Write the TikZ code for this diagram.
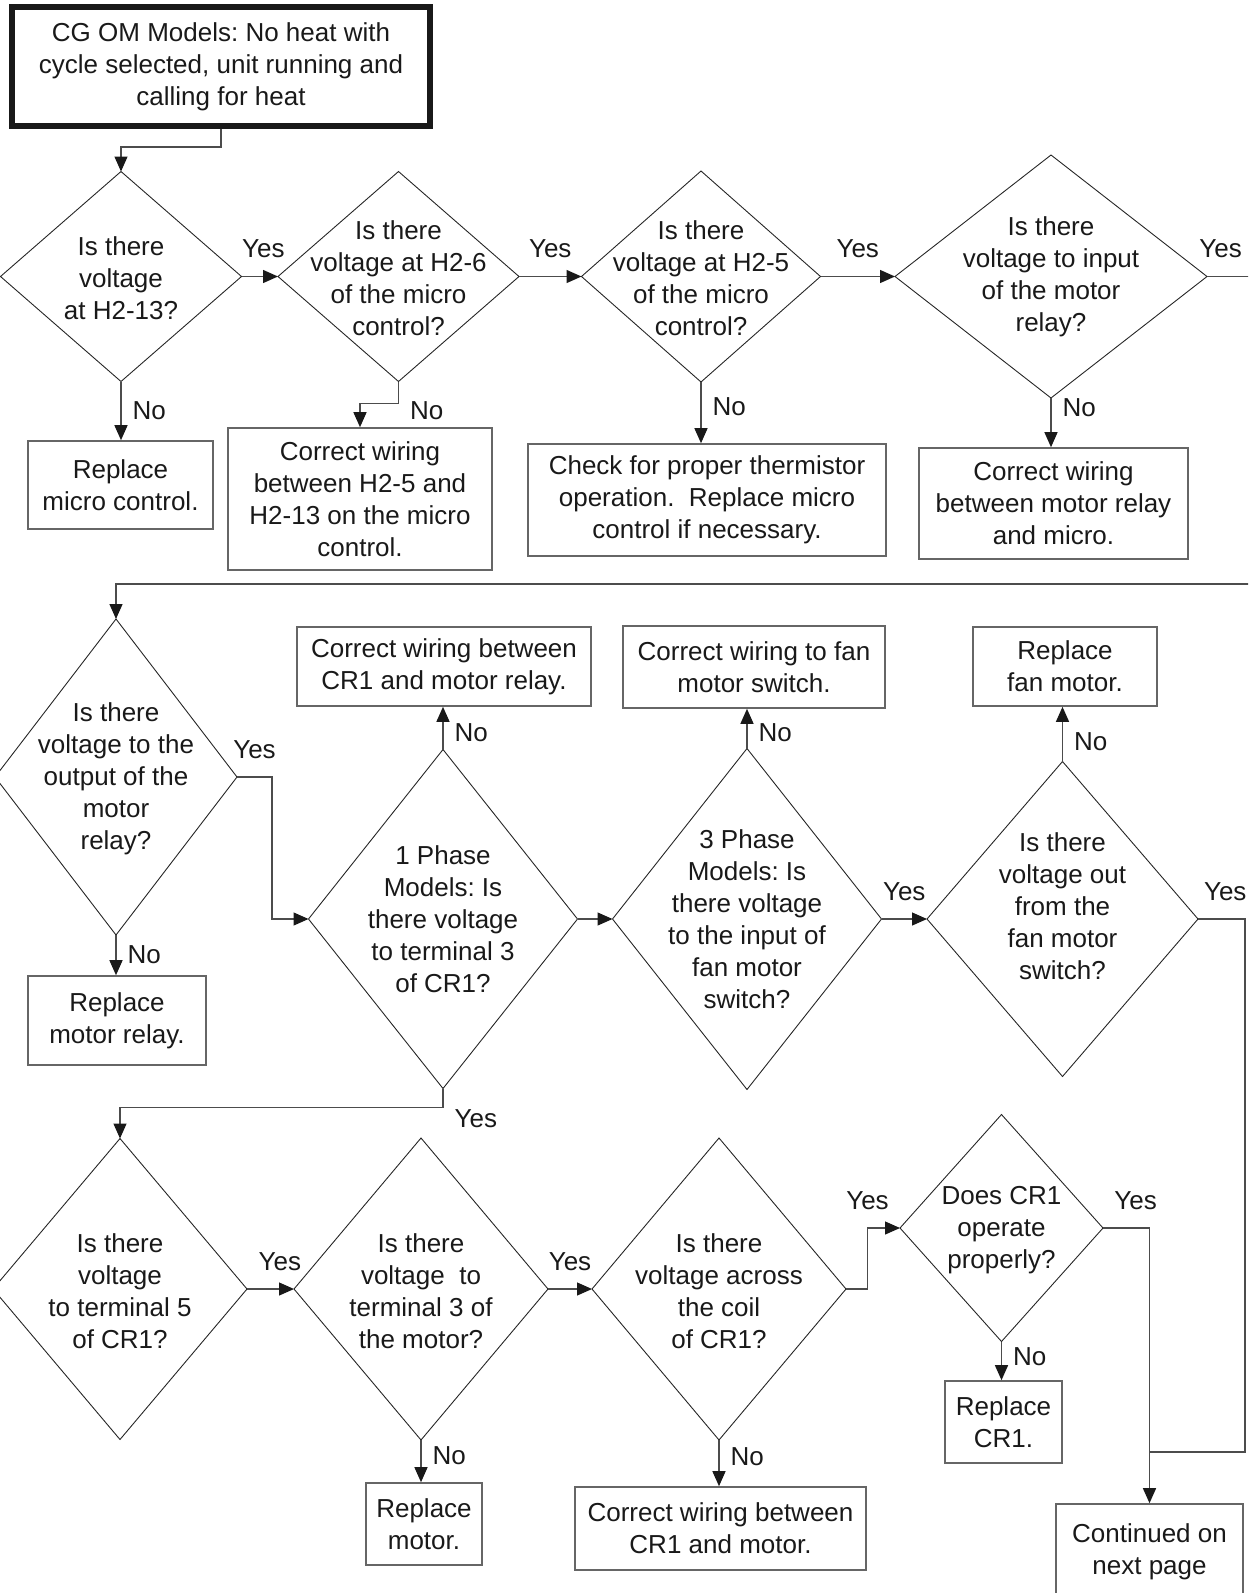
\documentclass[tikz,border=0pt]{standalone}
\usepackage{fontspec}
\setmainfont{Liberation Sans}
\usetikzlibrary{positioning, arrows.meta, shapes.geometric, calc}
\frenchspacing

\begin{document}
\begin{tikzpicture}[
        x=1pt, y=-1pt,
        font=\fontsize{26pt}{32pt}\selectfont,
        text=black!90,
        titlu/.style={draw=black!90, line width=6pt, align=center, inner sep=0pt},
        bloc/.style={draw=black!60, line width=1.6pt, align=center, inner sep=0pt},
        intrebare/.style={diamond, draw=black!85, line width=0.9pt, inner sep=0pt, outer sep=0pt},
        textintr/.style={align=center, inner sep=0pt},
        eticheta/.style={inner sep=0pt},
        linie/.style={draw=black!70, line width=1.3pt},
        sageata/.style={linie, -{Triangle[length=15pt, width=13pt, color=black!90]}},
    ]
        \useasboundingbox (0,0) rectangle (1248,1593);
        \clip (0,0) rectangle (1248,1593);
        \node[titlu, minimum width=418pt, minimum height=119pt] (inceput) at (221,66.5)
            {CG OM Models: No heat with\\cycle selected, unit running and\\calling for heat};
        \node[intrebare, minimum width=241pt, minimum height=210pt,
            label={[textintr, yshift=-2pt]center:{Is there\\voltage\\at H2-13?}}] (q1) at (121,276.5) {};
        \node[intrebare, minimum width=241pt, minimum height=210pt,
            label={[textintr, yshift=-2pt]center:{Is there\\voltage at H2-6\\of the micro\\control?}}] (q2) at (398.5,276.5) {};
        \node[intrebare, minimum width=239pt, minimum height=211pt,
            label={[textintr, yshift=-2pt]center:{Is there\\voltage at H2-5\\of the micro\\control?}}] (q3) at (701,276.5) {};
        \node[intrebare, minimum width=312pt, minimum height=243pt,
            label={[textintr]center:{Is there\\voltage to input\\of the motor\\relay?}}] (q4) at (1051,276.5) {};
        \node[bloc, minimum width=185pt, minimum height=88pt] (r1) at (120.5,485)
            {Replace\\micro control.};
        \node[bloc, minimum width=264pt, minimum height=142pt] (r2) at (360,499)
            {Correct wiring\\between H2-5 and\\H2-13 on the micro\\control.};
        \node[bloc, minimum width=358pt, minimum height=112pt] (r3) at (707,500)
            {Check for proper thermistor\\operation.\ \ Replace micro\\control if necessary.};
        \node[bloc, minimum width=269pt, minimum height=111pt] (r4) at (1053.5,503.5)
            {Correct wiring\\between motor relay\\and micro.};
        \node[intrebare, minimum width=242pt, minimum height=316pt,
            label={[textintr, yshift=-2pt]center:{Is there\\voltage to the\\output of the\\motor\\relay?}}] (q5) at (116,777) {};
        \node[intrebare, minimum width=269pt, minimum height=339pt,
            label={[textintr]center:{1 Phase\\Models: Is\\there voltage\\to terminal 3\\of CR1?}}] (q6) at (443,919) {};
        \node[intrebare, minimum width=269pt, minimum height=341pt,
            label={[textintr]center:{3 Phase\\Models: Is\\there voltage\\to the input of\\fan motor\\switch?}}] (q7) at (747,919) {};
        \node[intrebare, minimum width=271pt, minimum height=315pt,
            label={[textintr, yshift=13pt]center:{Is there\\voltage out\\from the\\fan motor\\switch?}}] (q8) at (1062.5,919) {};
        \node[bloc, minimum width=294pt, minimum height=79pt] (r6) at (444,666.5)
            {Correct wiring between\\CR1 and motor relay.};
        \node[bloc, minimum width=262pt, minimum height=82pt] (r7) at (754,667)
            {Correct wiring to fan\\motor switch.};
        \node[bloc, minimum width=184pt, minimum height=79pt] (r8) at (1065,666.5)
            {Replace\\fan motor.};
        \node[bloc, minimum width=178pt, minimum height=89pt] (r5) at (117,1020.5)
            {Replace\\motor relay.};
        \node[intrebare, minimum width=254pt, minimum height=301pt,
            label={[textintr, yshift=-2pt]center:{Is there\\voltage\\to terminal 5\\of CR1?}}] (q9) at (120,1289) {};
        \node[intrebare, minimum width=254pt, minimum height=302pt,
            label={[textintr, yshift=-2pt]center:{Is there\\voltage\ \ to\\terminal 3 of\\the motor?}}] (q10) at (421,1289) {};
        \node[intrebare, minimum width=254pt, minimum height=302pt,
            label={[textintr, yshift=-2pt]center:{Is there\\voltage across\\the coil\\of CR1?}}] (q11) at (719,1289) {};
        \node[intrebare, minimum width=203pt, minimum height=227pt,
            label={[textintr, yshift=-2pt]center:{Does CR1\\operate\\properly?}}] (q12) at (1001.5,1228) {};
        \node[bloc, minimum width=116pt, minimum height=82pt] (r10) at (424,1524)
            {Replace\\motor.};
        \node[bloc, minimum width=291pt, minimum height=83pt] (r11) at (720.5,1528.5)
            {Correct wiring between\\CR1 and motor.};
        \node[bloc, minimum width=117pt, minimum height=82pt] (r12) at (1003.5,1422)
            {Replace\\CR1.};
        \node[bloc, minimum width=187pt, minimum height=96pt] (continuare) at (1149.5,1552)
            {Continued on\\next page};
        \coordinate (colt) at (1275,584);
        \coordinate (cot) at (1245,1452);
        \draw[sageata] (inceput.south) -- ++(0,18) -| (q1.north);
        \draw[sageata] (q1.east) -- node[eticheta, above=18pt, pos=0.6] {Yes} (q2.west);
        \draw[sageata] (q2.east) -- node[eticheta, above=18pt] {Yes} (q3.west);
        \draw[sageata] (q3.east) -- node[eticheta, above=18pt] {Yes} (q4.west);
        \draw[sageata] (q4.east) -| node[eticheta, above=18pt, pos=0.1] {Yes} (colt) -| (q5.north);
        \draw[sageata] (q1.south) -- node[eticheta, right=11pt] {No} (q1.south |- r1.north);
        \draw[sageata] (q2.south) -- ++(0,22) node[eticheta, right=11pt, yshift=-7pt] {No} -| (r2.north);
        \draw[sageata] (q3.south) -- node[eticheta, right=11pt, pos=0.4] {No} (q3.south |- r3.north);
        \draw[sageata] (q4.south) -- node[eticheta, right=11pt, pos=0.2] {No} (q4.south |- r4.north);
        \draw[sageata] (q5.east) -- node[eticheta, above=18pt] {Yes} ++(35,0) |- (q6.west);
        \draw[sageata] (q5.south) -- node[eticheta, right=11pt] {No} (q5.south |- r5.north);
        \draw[sageata] (q6.north) -- node[eticheta, right=11pt, pos=0.4] {No} (q6.north |- r6.south);
        \draw[sageata] (q6.east) -- (q7.west);
        \draw[sageata] (q7.north) -- node[eticheta, right=11pt, pos=0.4] {No} (q7.north |- r7.south);
        \draw[sageata] (q7.east) -- node[eticheta, above=18pt] {Yes} (q8.west);
        \draw[sageata] (q8.north) -- node[eticheta, right=11pt, pos=0.37] {No} (q8.north |- r8.south);
        \draw[linie] (q8.east) -| node[eticheta, above=18pt, pos=0.29] {Yes} (cot) -- (cot -| continuare.north);
        \draw[sageata] (q6.south) -- ++(0,19) node[eticheta, right=11pt, yshift=-11pt] {Yes} -| (q9.north);
        \draw[sageata] (q9.east) -- node[eticheta, above=18pt, pos=0.7] {Yes} (q10.west);
        \draw[sageata] (q10.south) -- node[eticheta, right=11pt, pos=0.37] {No} (q10.south |- r10.north);
        \draw[sageata] (q10.east) -- node[eticheta, above=18pt] {Yes} (q11.west);
        \draw[sageata] (q11.south) -- node[eticheta, right=11pt, pos=0.36] {No} (q11.south |- r11.north);
        \draw[sageata] (q11.east) -- ++(21.5,0) |- node[eticheta, above=18pt] {Yes} (q12.west);
        \draw[sageata] (q12.south) -- node[eticheta, right=11pt, pos=0.4] {No} (q12.south |- r12.north);
        \draw[sageata] (q12.east) -| node[eticheta, above=18pt, pos=0.35] {Yes} (continuare.north);
    \end{tikzpicture}
\end{document}
